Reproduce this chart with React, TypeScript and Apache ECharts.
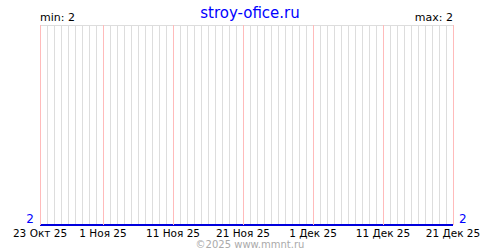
import React, { useEffect, useRef } from "react";
import * as echarts from "echarts";

const dates: string[] = [
  "2025-10-23", "2025-10-24", "2025-10-25", "2025-10-26", "2025-10-27", "2025-10-28", "2025-10-29", "2025-10-30", "2025-10-31",
  "2025-11-01", "2025-11-02", "2025-11-03", "2025-11-04", "2025-11-05", "2025-11-06", "2025-11-07", "2025-11-08", "2025-11-09", "2025-11-10",
  "2025-11-11", "2025-11-12", "2025-11-13", "2025-11-14", "2025-11-15", "2025-11-16", "2025-11-17", "2025-11-18", "2025-11-19", "2025-11-20",
  "2025-11-21", "2025-11-22", "2025-11-23", "2025-11-24", "2025-11-25", "2025-11-26", "2025-11-27", "2025-11-28", "2025-11-29", "2025-11-30",
  "2025-12-01", "2025-12-02", "2025-12-03", "2025-12-04", "2025-12-05", "2025-12-06", "2025-12-07", "2025-12-08", "2025-12-09", "2025-12-10",
  "2025-12-11", "2025-12-12", "2025-12-13", "2025-12-14", "2025-12-15", "2025-12-16", "2025-12-17", "2025-12-18", "2025-12-19", "2025-12-20",
  "2025-12-21",
];

const values: number[] = [
  2, 2, 2, 2, 2, 2, 2, 2, 2,
  2, 2, 2, 2, 2, 2, 2, 2, 2, 2,
  2, 2, 2, 2, 2, 2, 2, 2, 2, 2,
  2, 2, 2, 2, 2, 2, 2, 2, 2, 2,
  2, 2, 2, 2, 2, 2, 2, 2, 2, 2,
  2, 2, 2, 2, 2, 2, 2, 2, 2, 2,
  2,
];

const labeledDates: string[] = [
  "2025-10-23", "2025-11-01", "2025-11-11", "2025-11-21", "2025-12-01", "2025-12-11", "2025-12-21",
];

const monthNames: string[] = ["Янв", "Фев", "Мар", "Апр", "Май", "Июн", "Июл", "Авг", "Сен", "Окт", "Ноя", "Дек"];

const titleText = "stroy-ofice.ru";
const footerText = "©2025 www.mmnt.ru";
const minValue = 2;
const maxValue = 2;

function fmt(d: string): string {
  const [y, m, day] = d.split("-");
  return `${parseInt(day, 10)} ${monthNames[parseInt(m, 10) - 1]} ${y.slice(2)}`;
}

export default function App() {
  const ref = useRef<HTMLDivElement>(null);
  useEffect(() => {
    if (!ref.current) return;
    const chart = echarts.init(ref.current, undefined, { renderer: "svg" });
    const font = "DejaVu Sans";
    chart.setOption({
      animation: false,
      backgroundColor: "#ffffff",
      grid: { left: 40, right: 47, top: 25, bottom: 25, containLabel: false },
      title: {
        text: titleText,
        left: "center",
        top: 0,
        textStyle: { color: "#0000ff", fontSize: 15, fontWeight: "normal", fontFamily: font },
      },
      graphic: [
        { type: "text", left: 40, top: 12, style: { text: `min: ${minValue}`, fill: "#000", font: `11px ${font}` } },
        { type: "text", right: 47, top: 12, style: { text: `max: ${maxValue}`, fill: "#000", font: `11px ${font}` } },
        { type: "text", left: "center", top: 239, style: { text: footerText, fill: "#aaaaaa", font: `10px ${font}` } },
      ],
      xAxis: {
        type: "category",
        data: dates,
        boundaryGap: false,
        axisLine: { show: false },
        axisTick: { show: false },
        axisLabel: {
          interval: (i: number, v: string) => labeledDates.includes(v),
          formatter: (v: string) => fmt(v),
          color: "#000",
          fontSize: 10.5,
          fontFamily: font,
          margin: 2,
          showMinLabel: true,
          showMaxLabel: true,
        },
        splitLine: { show: true, interval: 0, lineStyle: { color: "#dddddd", width: 1 } },
      },
      yAxis: [
        {
          type: "value",
          min: 2,
          max: 3,
          interval: 1,
          axisLine: { show: false },
          axisTick: { show: false },
          axisLabel: {
            formatter: (v: number) => (v === minValue ? String(v) : ""),
            color: "#0000ff",
            fontSize: 12,
            fontFamily: font,
            margin: 6,
            verticalAlign: "bottom",
          },
          splitLine: { show: true, lineStyle: { color: "#dddddd", width: 1 } },
        },
        {
          type: "value",
          position: "right",
          min: 2,
          max: 3,
          interval: 1,
          axisLine: { show: false },
          axisTick: { show: false },
          axisLabel: {
            formatter: (v: number) => (v === maxValue ? String(v) : ""),
            color: "#0000ff",
            fontSize: 12,
            fontFamily: font,
            margin: 6,
            verticalAlign: "bottom",
          },
          splitLine: { show: false },
        },
      ],
      series: [
        {
          type: "line",
          data: values,
          symbol: "none",
          lineStyle: { color: "#0000dd", width: 2 },
          z: 3,
          markLine: {
            silent: true,
            symbol: "none",
            label: { show: false },
            lineStyle: { color: "#ffbbbb", width: 1, type: "solid" },
            data: labeledDates.map((d) => ({ xAxis: d })),
          },
        },
      ],
    });
    return () => chart.dispose();
  }, []);
  return (
    <div
      ref={ref}
      style={{ position: "absolute", left: 0, top: 0, width: 500, height: 250 }}
    />
  );
}
